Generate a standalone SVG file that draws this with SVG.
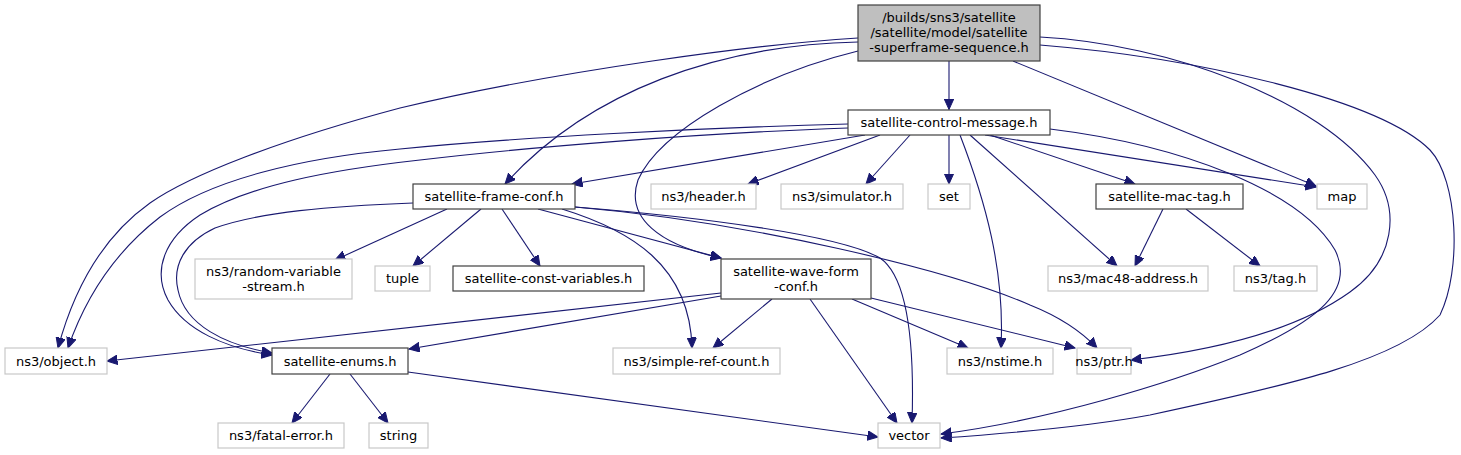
<svg xmlns="http://www.w3.org/2000/svg" width="1461" height="455" viewBox="0 0 1461 455">
<defs>
<marker id="ah" markerUnits="userSpaceOnUse" markerWidth="12" markerHeight="10" refX="10.5" refY="4.75" orient="auto">
<path d="M0,0 L10.5,4.75 L0,9.5 z" fill="#191970" stroke="#191970" stroke-width="1"/>
</marker>
<style>
.n rect{fill:#fff;stroke:#404040;stroke-width:1.2}
.x rect{fill:#fff;stroke:#c8c8c8;stroke-width:1.2}
.r rect{fill:#bfbfbf;stroke:#404040;stroke-width:1.2}
text{font-family:"DejaVu Sans","Liberation Sans",sans-serif;font-size:13px;fill:#000;text-anchor:middle}
#edges path{fill:none;stroke:#191970;stroke-width:1.1;marker-end:url(#ah)}
</style>
</defs>
<rect width="1461" height="455" fill="#fff"/>
<g id="edges">
<path d="M949,61 L949,109.5"/>
<path d="M858,38 C760,44 560,70 400,108 C280,140 190,175 150,203 C105,235 75,285 58,348"/>
<path d="M858,42 C720,45 590,90 505,184"/>
<path d="M858,51 C760,75 660,130 638,180 C625,218 660,245 721,258"/>
<path d="M1013,61 L1316,186"/>
<path d="M1040,37 C1170,44 1320,100 1375,175 C1400,210 1395,260 1350,292 C1290,335 1200,352 1131,360"/>
<path d="M1040,45 C1200,58 1380,100 1430,150 C1458,180 1462,270 1440,315 C1400,360 1290,385 1150,415 C1080,428 1000,434 941,438"/>
<path d="M848,124 C700,128 520,137 400,149 C300,158 210,180 160,217 C120,248 88,290 68,348"/>
<path d="M848,128 C700,133 520,148 420,160 C330,170 250,185 200,215 C165,238 152,270 168,300 C185,330 225,348 272,355"/>
<path d="M865,135 L572,184"/>
<path d="M880,135 L748,184"/>
<path d="M910,135 L866,184"/>
<path d="M949,135 L949,184"/>
<path d="M960,135 C985,200 1005,270 1001,348"/>
<path d="M970,135 L1117,266"/>
<path d="M990,135 L1135,184"/>
<path d="M985,135 L1316,187"/>
<path d="M1050,129 C1180,145 1300,190 1335,250 C1355,290 1320,320 1240,355 C1170,383 1050,420 941,434"/>
<path d="M413,203 C330,206 260,212 215,228 C185,242 172,265 178,290 C185,325 225,345 272,353"/>
<path d="M447,209 L335,260"/>
<path d="M481,209 L413,266"/>
<path d="M502,209 L540,266"/>
<path d="M538,209 L721,258"/>
<path d="M562,209 C630,230 690,265 692,348"/>
<path d="M575,207 C700,217 840,235 880,258 C905,275 915,330 912,423"/>
<path d="M575,207 C750,222 950,270 1030,305 C1055,315 1080,330 1097,348"/>
<path d="M721,293 L107,361"/>
<path d="M721,296 L409,349"/>
<path d="M772,299 L713,348"/>
<path d="M810,299 L897,423"/>
<path d="M852,299 L968,348"/>
<path d="M871,298 L1075,348"/>
<path d="M330,374 L292,423"/>
<path d="M350,374 L388,423"/>
<path d="M408,372 L878,437"/>
<path d="M1163,209 L1135,266"/>
<path d="M1186,209 L1260,266"/>
</g>
<g id="root" class="r"><rect x="858" y="5" width="182" height="56"/><text x="949" y="22">/builds/sns3/satellite</text><text x="949" y="37">/satellite/model/satellite</text><text x="949" y="52">-superframe-sequence.h</text></g>
<g id="control" class="n"><rect x="848" y="110" width="202" height="25"/><text x="949" y="127">satellite-control-message.h</text></g>
<g id="frameconf" class="n"><rect x="413" y="184" width="162" height="25"/><text x="494" y="201">satellite-frame-conf.h</text></g>
<g id="header" class="x"><rect x="651" y="184" width="105" height="25"/><text x="703.5" y="201">ns3/header.h</text></g>
<g id="simulator" class="x"><rect x="781" y="184" width="122" height="25"/><text x="842" y="201">ns3/simulator.h</text></g>
<g id="set" class="x"><rect x="928" y="184" width="42" height="25"/><text x="949" y="201">set</text></g>
<g id="mactag" class="n"><rect x="1096" y="184" width="147" height="25"/><text x="1169.5" y="201">satellite-mac-tag.h</text></g>
<g id="map" class="x"><rect x="1317" y="184" width="50" height="25"/><text x="1342" y="201">map</text></g>
<g id="random" class="x"><rect x="195" y="259" width="157" height="40"/><text x="273.5" y="275.5">ns3/random-variable</text><text x="273.5" y="290.5">-stream.h</text></g>
<g id="tuple" class="x"><rect x="375" y="266" width="55" height="25"/><text x="402.5" y="283">tuple</text></g>
<g id="constvars" class="n"><rect x="453" y="266" width="191" height="25"/><text x="548.5" y="283">satellite-const-variables.h</text></g>
<g id="waveform" class="n"><rect x="721" y="259" width="150" height="40"/><text x="796" y="275.5">satellite-wave-form</text><text x="796" y="290.5">-conf.h</text></g>
<g id="mac48" class="x"><rect x="1048" y="266" width="160" height="25"/><text x="1128" y="283">ns3/mac48-address.h</text></g>
<g id="tag" class="x"><rect x="1234" y="266" width="83" height="25"/><text x="1275.5" y="283">ns3/tag.h</text></g>
<g id="object" class="x"><rect x="5" y="348" width="102" height="26"/><text x="56" y="365.5">ns3/object.h</text></g>
<g id="enums" class="n"><rect x="272" y="348" width="136" height="26"/><text x="340" y="365.5">satellite-enums.h</text></g>
<g id="simplerefcount" class="x"><rect x="613" y="348" width="167" height="26"/><text x="696.5" y="365.5">ns3/simple-ref-count.h</text></g>
<g id="nstime" class="x"><rect x="947" y="348" width="106" height="26"/><text x="1000" y="365.5">ns3/nstime.h</text></g>
<g id="ptr" class="x"><rect x="1077" y="348" width="54" height="26"/><text x="1104" y="365.5">ns3/ptr.h</text></g>
<g id="fatalerror" class="x"><rect x="218" y="423" width="126" height="25"/><text x="281" y="440">ns3/fatal-error.h</text></g>
<g id="string" class="x"><rect x="369" y="423" width="59" height="25"/><text x="398.5" y="440">string</text></g>
<g id="vector" class="x"><rect x="878" y="423" width="62" height="25"/><text x="909" y="440">vector</text></g>
</svg>
